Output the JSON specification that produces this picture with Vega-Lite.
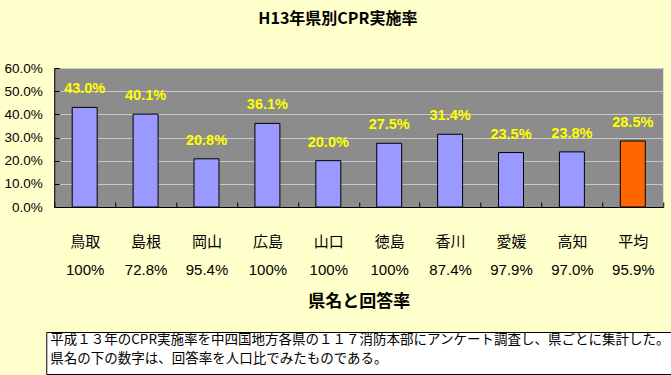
{
  "$schema": "https://vega.github.io/schema/vega-lite/v6.json",
  "background": "#FFFFCC",
  "padding": {"left": 3, "top": 11, "right": 9, "bottom": 3},
  "title": {
    "text": "H13年県別CPR実施率",
    "font": "Noto Sans CJK JP",
    "fontSize": 16,
    "fontWeight": "bold",
    "color": "#000000",
    "anchor": "middle",
    "offset": 34
  },
  "config": {
    "font": "Noto Sans CJK JP"
  },
  "center": true,
  "spacing": 22,
  "vconcat": [
    {
      "width": 609,
      "height": 139,
      "view": {"fill": "#8C8C8C", "stroke": null},
      "data": {
        "values": [
          {"pref": "鳥取", "resp": "100%", "rate": 0.430},
          {"pref": "島根", "resp": "72.8%", "rate": 0.401},
          {"pref": "岡山", "resp": "95.4%", "rate": 0.208},
          {"pref": "広島", "resp": "100%", "rate": 0.361},
          {"pref": "山口", "resp": "100%", "rate": 0.200},
          {"pref": "徳島", "resp": "100%", "rate": 0.275},
          {"pref": "香川", "resp": "87.4%", "rate": 0.314},
          {"pref": "愛媛", "resp": "97.9%", "rate": 0.235},
          {"pref": "高知", "resp": "97.0%", "rate": 0.238},
          {"pref": "平均", "resp": "95.9%", "rate": 0.285}
        ]
      },
      "transform": [{"calculate": "datum.pref + '|' + datum.resp", "as": "xlab"}],
      "encoding": {
        "x": {
          "field": "xlab",
          "type": "nominal",
          "sort": null,
          "scale": {"paddingInner": 0, "paddingOuter": 0},
          "axis": {
            "title": "県名と回答率",
            "titleFont": "Noto Sans CJK JP",
            "titleFontSize": 17,
            "titleFontWeight": "bold",
            "titleColor": "#000000",
            "titlePadding": 16,
            "labelAngle": 0,
            "labelExpr": "isValid(datum.value) ? split(datum.value, '|') : ''",
            "labelFont": "Liberation Sans, Noto Sans CJK JP",
            "labelFontSize": 15,
            "labelLineHeight": 28,
            "labelColor": "#000000",
            "labelPadding": 32,
            "tickBand": "extent",
            "tickSize": -5,
            "tickColor": "#000000",
            "domainColor": "#000000",
            "grid": false
          }
        },
        "y": {
          "field": "rate",
          "type": "quantitative",
          "scale": {"domain": [0, 0.6], "nice": false},
          "axis": {
            "title": null,
            "format": ".1%",
            "values": [0, 0.1, 0.2, 0.3, 0.4, 0.5, 0.6],
            "labelFont": "Liberation Sans",
            "labelFontSize": 13.5,
            "labelColor": "#000000",
            "labelPadding": 17,
            "tickSize": -5,
            "tickColor": "#000000",
            "domainColor": "#000000",
            "grid": true,
            "gridColor": "#C8C8C8",
            "gridWidth": 1
          }
        }
      },
      "layer": [
        {
          "mark": {"type": "bar", "width": {"band": 0.41}, "stroke": "#000000", "strokeWidth": 1},
          "encoding": {
            "color": {
              "condition": {"test": "datum.pref === '平均'", "value": "#FF6600"},
              "value": "#9999FF"
            }
          }
        },
        {
          "mark": {
            "type": "text",
            "baseline": "bottom",
            "dy": -11,
            "fontSize": 14.5,
            "fontWeight": "bold",
            "font": "Liberation Sans",
            "fill": "#FFFF00"
          },
          "encoding": {
            "text": {"field": "rate", "type": "quantitative", "format": ".1%"}
          }
        }
      ]
    },
    {
      "width": 625,
      "height": 42,
      "view": {"fill": "#FFFFFF", "stroke": "#000000", "strokeWidth": 1},
      "data": {
        "values": [
          {"note": "平成１３年のCPR実施率を中四国地方各県の１１７消防本部にアンケート調査し、県ごとに集計した。\n県名の下の数字は、回答率を人口比でみたものである。"}
        ]
      },
      "mark": {
        "type": "text",
        "align": "left",
        "baseline": "middle",
        "lineBreak": "\n",
        "lineHeight": 19,
        "fontSize": 13.5,
        "font": "Noto Sans CJK JP",
        "fill": "#000000",
        "dx": 4
      },
      "encoding": {
        "text": {"field": "note", "type": "nominal"},
        "x": {"datum": 0, "type": "quantitative", "scale": {"domain": [0, 1]}, "axis": null},
        "y": {"datum": 0.8, "type": "quantitative", "scale": {"domain": [0, 1]}, "axis": null}
      }
    }
  ]
}
